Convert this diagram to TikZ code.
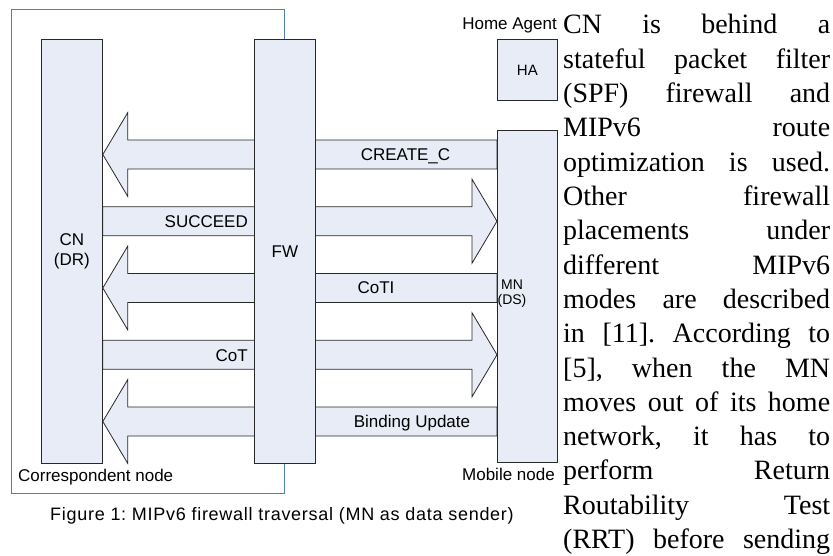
\documentclass[tikz,border=0pt]{standalone}
\usepackage{fontspec}
\setmainfont{Liberation Serif}
\newfontfamily\labelfont{Liberation Sans}
\usetikzlibrary{calc}
\pgfdeclarelayer{bg}
\pgfsetlayers{bg,main}
\definecolor{boxfill}{RGB}{231,236,246}
\definecolor{edge}{RGB}{40,40,40}
\definecolor{frameblue}{RGB}{79,129,189}
\frenchspacing

% block arrow pointing from MN towards CN, centred at height #1
\newcommand\msgleft[1]{%
  \draw[blockarrow] let \p1=(cn.east), \p2=(mn.west), \p3=(0,#1) in
    (\x2,\y3+14.5pt) -- (\x1+25pt,\y3+14.5pt) -- (\x1+25pt,\y3+42pt) -- (\x1,\y3)
    -- (\x1+25pt,\y3-42pt) -- (\x1+25pt,\y3-14.5pt) -- (\x2,\y3-14.5pt) -- cycle;}
% block arrow pointing from CN towards MN, centred at height #1
\newcommand\msgright[1]{%
  \draw[blockarrow] let \p1=(cn.east), \p2=(mn.west), \p3=(0,#1) in
    (\x1,\y3+14.5pt) -- (\x2-25pt,\y3+14.5pt) -- (\x2-25pt,\y3+42pt) -- (\x2,\y3)
    -- (\x2-25pt,\y3-42pt) -- (\x2-25pt,\y3-14.5pt) -- (\x1,\y3-14.5pt) -- cycle;}

\begin{document}
\begin{tikzpicture}[x=1pt,y=-1pt,
  box/.style={draw=edge, fill=boxfill, line width=0.8pt, anchor=north west,
    inner sep=0pt, align=center, font=\labelfont\fontsize{17}{20}\selectfont},
  blockarrow/.style={draw=edge, fill=boxfill, line width=0.8pt, line join=miter},
  lbl/.style={font=\labelfont\fontsize{17}{20}\selectfont, inner sep=0pt},
  bodyline/.style={font=\fontsize{28}{28}\selectfont, inner sep=0pt, anchor=base west}]

\useasboundingbox (0,0) rectangle (833,556);

% the four entities
\node[box, minimum width=61pt, minimum height=423.5pt] (cn) at (41,39.5) {CN\\(DR)};
\node[box, minimum width=61pt, minimum height=423.5pt] (fw) at (254,39.5) {FW};
\node[box, minimum width=60pt, minimum height=331.5pt] (mn) at (497,130.5) {};
\node[box, minimum width=60pt, minimum height=61pt, font=\labelfont\fontsize{15}{18}\selectfont] (ha) at (497,39) {HA};
\node[lbl, align=center, font=\labelfont\fontsize{14}{15}\selectfont] (mnlbl) at (512,294) {MN\\(DS)};

% network boundary and message arrows behind the boxes
\begin{pgfonlayer}{bg}
  \draw[frameblue, line width=0.9pt] (fw.north) |- (11,9.5) |- (fw.south |- 0,493) -- (fw.south);
  \msgleft{154.5}
  \msgright{221.25}
  \msgleft{288}
  \msgright{354.75}
  \msgleft{421.5}
\end{pgfonlayer}

% message names
\node[lbl, anchor=base] (tcreate) at (405.5,160.5) {CREATE\_C};
\node[lbl, anchor=base east] (tsucceed) at (248,227.5) {SUCCEED};
\node[lbl, anchor=base] (tcoti) at (376,294) {CoTI};
\node[lbl, anchor=base east] (tcot) at (248,361) {CoT};
\node[lbl, anchor=base] (tbu) at (412,427.5) {Binding Update};

% entity captions
\node[lbl, anchor=base east] (thome) at (557,30) {Home Agent};
\node[lbl, anchor=base east] (tmobile) at (555,480) {Mobile node};
\node[lbl, anchor=base west] (tcorr) at (18,481) {Correspondent node};
\node[lbl, anchor=base west, font=\labelfont\fontsize{18}{20}\selectfont] (tfig) at (50,520)
  {\addfontfeature{LetterSpace=4}Figure 1: MIPv6 firewall traversal (MN as data sender)};

% surrounding column of body text
\foreach \txt [count=\i] in {{CN is behind a},{stateful packet filter},{(SPF) firewall and},
    {MIPv6 route},{optimization is used.},{Other firewall},{placements under},
    {different MIPv6},{modes are described},{in [11]. According to},{[5], when the MN},
    {moves out of its home},{network, it has to},{perform Return},{Routability Test},
    {(RRT) before sending}}
  \node[bodyline] (body\i) at (563,{34+34.3*(\i-1)}) {\makebox[267pt][s]{\txt}};
\end{tikzpicture}
\end{document}
